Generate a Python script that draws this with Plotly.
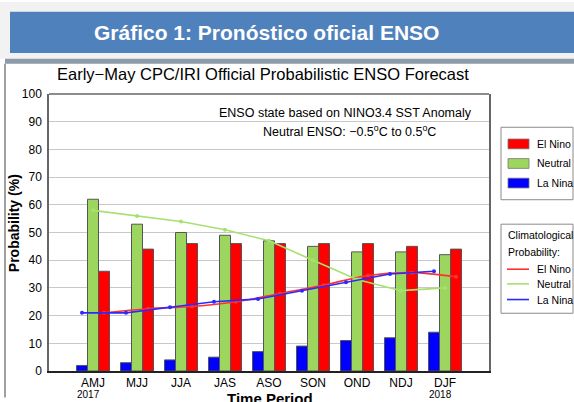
import plotly.graph_objects as go

periods = ["AMJ", "MJJ", "JJA", "JAS", "ASO", "SON", "OND", "NDJ", "DJF"]
years = {0: "2017", 8: "2018"}

# official forecast probabilities (%)
la_nina = [2, 3, 4, 5, 7, 9, 11, 12, 14]
neutral = [62, 53, 50, 49, 47, 45, 43, 43, 42]
el_nino = [36, 44, 46, 46, 46, 46, 46, 45, 44]

# climatological probabilities (%)
clim_la_nina = [21, 21, 23, 25, 26, 29, 32, 35, 36]
clim_neutral = [58, 56, 54, 51, 47, 40, 33, 29, 30]
clim_el_nino = [21, 22.5, 23.3, 25, 28, 31, 34.5, 35.5, 34]

W, H = 574, 402
L, R, T, B = 49, 489, 94, 377
FONT = "Liberation Sans, Arial, sans-serif"

RED, GREEN, BLUE = "#ff0000", "#9dd65f", "#0000ff"
RED_L, GREEN_L, BLUE_L = "#ff3030", "#a8e070", "#2a2aff"


def fx(p):
    return (p - L) / (R - L)


def fy(p):
    return (B - p) / (B - T)


xs = list(range(len(periods)))
fig = go.Figure()

# bars: La Nina left, Neutral centre, El Nino right
for vals, col, off in [(la_nina, BLUE, -0.375), (neutral, GREEN, -0.125), (el_nino, RED, 0.125)]:
    fig.add_trace(go.Bar(
        x=xs, y=vals, width=0.25, offset=off,
        marker=dict(color=col, line=dict(color="#555555", width=1)),
        showlegend=False, hoverinfo="y",
    ))

# climatology lines, each sitting on its own bar centre
for vals, col, shift, shape in [(clim_el_nino, RED_L, 0.25, "spline"),
                                (clim_neutral, GREEN_L, 0.0, "linear"),
                                (clim_la_nina, BLUE_L, -0.25, "linear")]:
    fig.add_trace(go.Scatter(
        x=[i + shift for i in xs], y=vals, mode="lines+markers",
        line=dict(color=col, width=1.6, shape=shape),
        marker=dict(color=col, size=4),
        showlegend=False, hoverinfo="y",
    ))

shapes = [
    # header
    dict(type="rect", xref="paper", yref="paper", x0=fx(0), x1=fx(W), y0=fy(0), y1=fy(58),
         fillcolor="#f2f2f2", line_width=0, layer="below"),
    dict(type="rect", xref="paper", yref="paper", x0=fx(10), x1=fx(W + 2), y0=fy(10), y1=fy(52),
         fillcolor="#4f81bd", line_width=0),
    dict(type="rect", xref="paper", yref="paper", x0=fx(5), x1=fx(W + 2), y0=fy(58), y1=fy(63),
         fillcolor="#8d9aaa", line_width=0),
    dict(type="line", xref="paper", yref="paper", x0=fx(5), x1=fx(5), y0=fy(63), y1=fy(H + 2),
         line=dict(color="#808080", width=1.5)),
    # top border of plot
    dict(type="line", xref="paper", yref="paper", x0=0, x1=1, y0=1, y1=1,
         line=dict(color="#666666", width=1.5)),
    # legend boxes
    dict(type="rect", xref="paper", yref="paper", x0=fx(501), x1=fx(573), y0=fy(128), y1=fy(202),
         line=dict(color="#8a8a8a", width=1), fillcolor="white"),
    dict(type="rect", xref="paper", yref="paper", x0=fx(501), x1=fx(573), y0=fy(227), y1=fy(318),
         line=dict(color="#8a8a8a", width=1), fillcolor="white"),
]

ann = [
    dict(text="<b>Gráfico 1: Pronóstico oficial ENSO</b>", x=fx(266), y=fy(31),
         font=dict(size=21, color="white")),
    dict(text="Early−May CPC/IRI Official Probabilistic ENSO Forecast", x=fx(263), y=fy(74),
         font=dict(size=16.5, color="black")),
    dict(text="ENSO state based on NINO3.4 SST Anomaly", x=fx(345), y=fy(113),
         font=dict(size=12.5, color="black")),
    dict(text="Neutral ENSO: −0.5<sup>o</sup>C to 0.5<sup>o</sup>C", x=fx(349), y=fy(132),
         font=dict(size=12.5, color="black")),
    dict(text="<b>Probability (%)</b>", x=fx(14), y=fy(226), textangle=-90,
         font=dict(size=14, color="black")),
    dict(text="<b>Time Period</b>", x=fx(270), y=fy(394), yanchor="top",
         font=dict(size=15, color="black")),
    dict(text="Climatological", x=fx(506), y=fy(238), xanchor="left",
         font=dict(size=10.5, color="black")),
    dict(text="Probability:", x=fx(506), y=fy(255), xanchor="left",
         font=dict(size=10.5, color="black")),
]
for i, yr in years.items():
    ann.append(dict(text=yr, x=i - 0.1, xref="x", y=fy(401), font=dict(size=10, color="black")))

# legend 1: forecast bars
for name, col, yc in [("El Nino", RED, 145), ("Neutral", GREEN, 165), ("La Nina", BLUE, 185)]:
    shapes.append(dict(type="rect", xref="paper", yref="paper", x0=fx(508), x1=fx(529),
                       y0=fy(yc - 5), y1=fy(yc + 5), fillcolor=col,
                       line=dict(color="#777777", width=0.8)))
    ann.append(dict(text=name, x=fx(535), y=fy(yc), xanchor="left", font=dict(size=10.5, color="black")))

# legend 2: climatology lines
for name, col, yc in [("El Nino", RED_L, 273), ("Neutral", GREEN_L, 288), ("La Nina", BLUE_L, 304)]:
    shapes.append(dict(type="line", xref="paper", yref="paper", x0=fx(507), x1=fx(529),
                       y0=fy(yc), y1=fy(yc), line=dict(color=col, width=1.6)))
    ann.append(dict(text=name, x=fx(535), y=fy(yc), xanchor="left", font=dict(size=10.5, color="black")))

for a in ann:
    a.setdefault("xref", "paper")
    a.setdefault("yref", "paper")
    a.setdefault("xanchor", "center")
    a.setdefault("yanchor", "middle")
    a.setdefault("showarrow", False)

fig.update_layout(
    width=W, height=H,
    margin=dict(l=L, r=W - R, t=T, b=H - B, pad=0),
    paper_bgcolor="white", plot_bgcolor="white",
    font=dict(family=FONT, color="black"),
    barmode="overlay",
    shapes=shapes, annotations=ann,
    xaxis=dict(range=[-1, 9], tickvals=xs, ticktext=periods, showgrid=False,
               showline=True, linecolor="#222222", linewidth=1.5, ticks="",
               tickfont=dict(size=12), zeroline=False, fixedrange=True),
    yaxis=dict(range=[0, 100], dtick=10, showgrid=True, gridcolor="#c8c8c8", gridwidth=1,
               showline=True, linecolor="#666666", linewidth=1.5, mirror=True, ticks="",
               ticklabelstandoff=3, tickfont=dict(size=12), zeroline=False, fixedrange=True),
)

# page body has a default 8px margin; drop it so the figure fills the window
fig.write_html("out.html", config={"displayModeBar": False},
               post_script="document.body.style.margin='0';")
